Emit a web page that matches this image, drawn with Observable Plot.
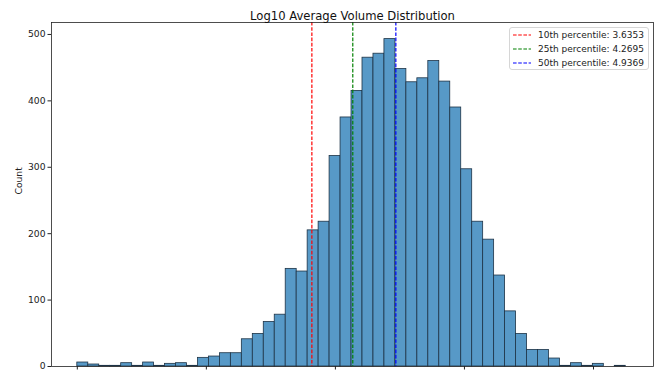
<!DOCTYPE html>
<html><head><meta charset="utf-8">
<script src="https://cdn.jsdelivr.net/npm/d3@7"></script>
<script src="https://cdn.jsdelivr.net/npm/@observablehq/plot@0.6"></script>
<style>
html,body{margin:0;padding:0;background:#fff;}
#chart{position:relative;width:659px;height:374px;overflow:hidden;}
.legend{position:absolute;left:509px;top:27px;width:140px;height:43px;box-sizing:border-box;border:1px solid #d6d6d6;border-radius:3px;background:rgba(255,255,255,0.8);font-family:"DejaVu Sans";font-size:9px;color:#222;}
.row{position:absolute;left:3px;height:14px;display:flex;align-items:center;white-space:nowrap;}
.row svg{margin-right:7px;}
</style></head><body><div id="chart"></div>
<script>
const title = "Log10 Average Volume Distribution";
const yLabel = "Count";
const binStart = 0;
const binWidth = 0.17;
const counts = [6,3,1,1,5,1,6,1,4,5,1,13,15,20,20,41,49,67,78,147,143,205,218,317,375,415,465,471,493,448,428,434,460,429,390,297,218,191,137,83,49,25,25,12,1,5,1,4,0,1];
const yTicks = [0,100,200,300,400,500];
const xTicks = [0,2,4,6,8];
const percentileNames = ["10th percentile","25th percentile","50th percentile"];
const percentileValues = [3.6353, 4.2695, 4.9369];
const percentileColors = ["red","green","blue"];

const bins = counts.map((c,i)=>({x1: binStart + i*binWidth, x2: binStart + (i+1)*binWidth, count: c}));
const percentiles = percentileNames.map((n,i)=>({name:n, value:percentileValues[i], color:percentileColors[i]}));

const plot = Plot.plot({
  width: 659, height: 374,
  marginLeft: 51, marginRight: 6, marginTop: 22, marginBottom: 8,
  style: {fontFamily: "DejaVu Sans", fontSize: "9.2px", color: "#222", background: "white"},
  x: {domain: [-0.40, 8.93]},
  y: {domain: [0, 518]},
  marks: [
    Plot.rectY(bins, {x1: "x1", x2: "x2", y: "count", fill: "#5799c7", stroke: "#1d3346", strokeWidth: 0.8, inset: 0}),
    ...percentiles.map(p => Plot.ruleX([p.value], {stroke: p.color, strokeWidth: 1.2, strokeDasharray: "3.6,1.6"})),
    Plot.frame({stroke: "#222", strokeWidth: 0.8}),
    Plot.axisY({ticks: yTicks, tickSize: 3.5, tickPadding: 2.5, label: null}),
    Plot.axisX({ticks: xTicks, tickSize: 3.5, fill: "none", label: null}),
    Plot.text([title], {frameAnchor: "top", dy: -11, fontSize: 11.6, fill: "#111"}),
    Plot.text([yLabel], {frameAnchor: "left", dx: -32, rotate: -90, fontSize: 9.2, fill: "#222"})
  ]
});
const chart = document.getElementById("chart");
chart.appendChild(plot);
const legend = document.createElement("div");
legend.className = "legend";
percentiles.forEach((p,i)=>{
  const row = document.createElement("div");
  row.className = "row";
  row.style.top = (i*13.8) + "px";
  row.innerHTML = `<svg width="18" height="4"><line x1="0" y1="2" x2="18" y2="2" stroke="${p.color}" stroke-width="1.2" stroke-dasharray="3.6,1.6"/></svg><span></span>`;
  row.querySelector("span").textContent = `${p.name}: ${p.value.toFixed(4)}`;
  legend.appendChild(row);
});
chart.appendChild(legend);
</script>
</body></html>
